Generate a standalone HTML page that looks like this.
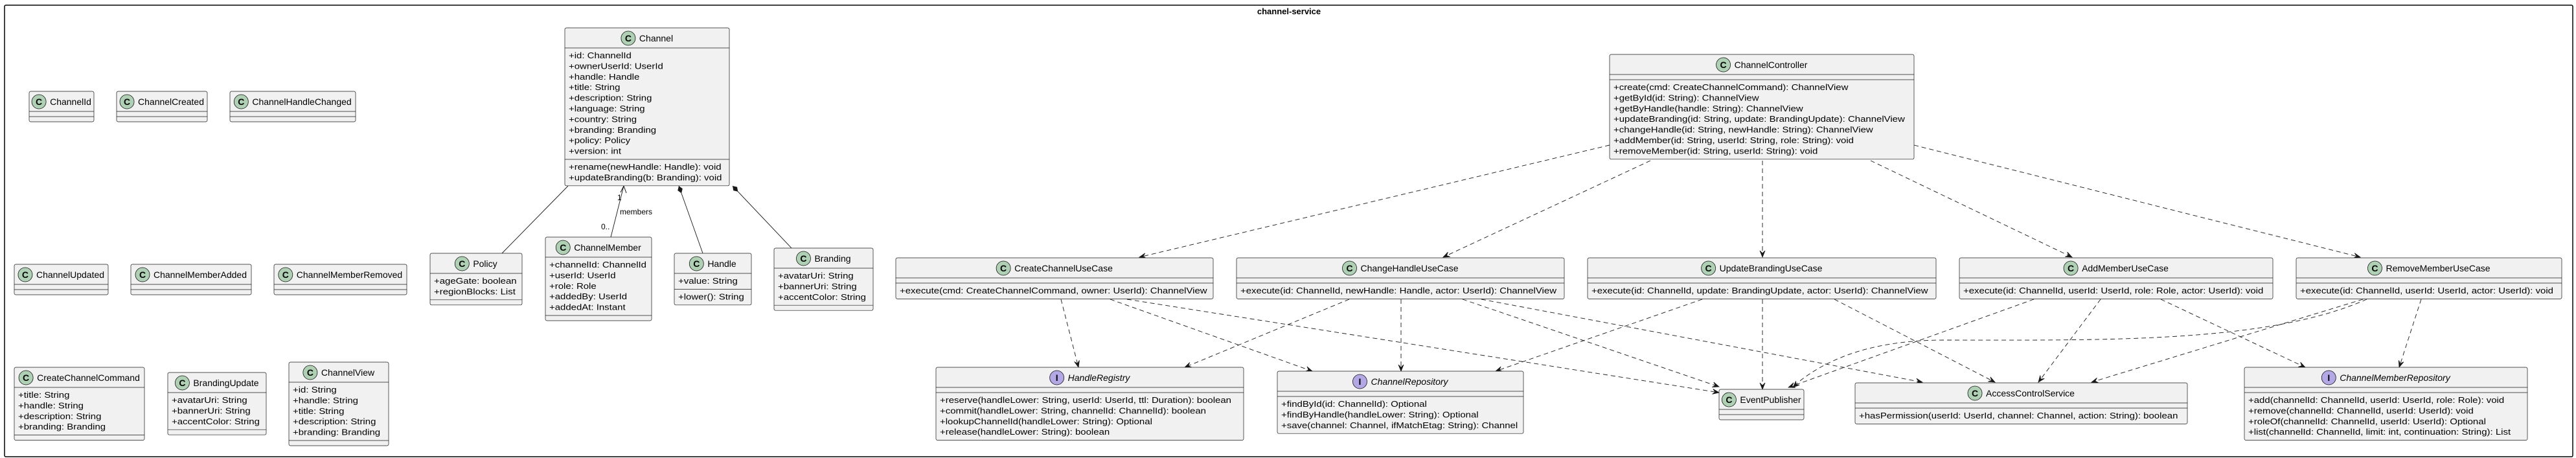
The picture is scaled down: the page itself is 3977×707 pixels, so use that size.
<!DOCTYPE html>
<html><head><meta charset="utf-8">
<style>
html,body{margin:0;padding:0;background:#fff;}
svg{display:block;}
text{font-family:"Liberation Sans",sans-serif;fill:#000;}
</style></head>
<body>
<svg id="s" width="3977" height="707" viewBox="0 0 3977 707" xmlns="http://www.w3.org/2000/svg">
<rect x="7" y="8" width="3965" height="697" fill="#fff" stroke="#000" stroke-width="1.5" rx="2"/>
<text x="1990" y="22" font-size="13" font-weight="bold" text-anchor="middle">channel-service</text>
<g id="edges"></g>
<g id="boxes"></g>
</svg>
<script>
const NS="http://www.w3.org/2000/svg";
const cv=document.createElement('canvas').getContext('2d');
function mw(t,f){cv.font=f;return cv.measureText(t).width;}
function el(tag,attrs,parent,txt){const e=document.createElementNS(NS,tag);for(const k in attrs)e.setAttribute(k,attrs[k]);if(txt!==undefined)e.textContent=txt;parent.appendChild(e);return e;}
const B=document.getElementById('boxes'),E=document.getElementById('edges');
const LH=16.4;
function box(name,x,y,w,attrs,methods,iface){
  const compH=n=>n==0?8:n*LH+8;
  const h=31+compH(attrs.length)+compH(methods.length);
  el('rect',{x:x,y:y,width:w,height:h,fill:'#F1F1F1',stroke:'#181818','stroke-width':0.7,rx:2.5},B);
  const nf=(iface?'italic ':'')+'14px "Liberation Sans"';
  const nw=mw(name,nf);
  const tot=22+6+nw;const sx=x+(w-tot)/2;
  el('circle',{cx:sx+11,cy:y+16,r:11,fill:iface?'#B4A7E5':'#ADD1B2',stroke:'#181818','stroke-width':0.8},B);
  el('text',{x:sx+11,y:y+21,'font-size':14,'font-weight':'bold','text-anchor':'middle'},B,iface?'I':'C');
  const t=el('text',{x:sx+28,y:y+21,'font-size':14},B,name);
  if(iface)t.setAttribute('font-style','italic');
  let cy=y+31;
  el('line',{x1:x,y1:cy,x2:x+w,y2:cy,stroke:'#181818','stroke-width':0.7},B);
  const all=attrs.concat(methods);
  let mx=0;all.forEach(l=>mx=Math.max(mx,mw(l,'13px "Liberation Sans"')));
  let k=mx?(w-13)/mx:1;k=Math.max(0.85,Math.min(1.15,k));
  function lines(arr){arr.forEach((l,i)=>{const tt=el('text',{x:x+6,y:cy+16+i*LH,'font-size':13},B,l);
    tt.setAttribute('textLength',(mw(l,'13px "Liberation Sans"')*k).toFixed(1));tt.setAttribute('lengthAdjust','spacingAndGlyphs');});}
  lines(attrs);cy+=compH(attrs.length);
  el('line',{x1:x,y1:cy,x2:x+w,y2:cy,stroke:'#181818','stroke-width':0.7},B);
  lines(methods);
}
function arrowHead(px,py,tx,ty,g){
  const dx=tx-px,dy=ty-py,L=Math.hypot(dx,dy),ux=dx/L,uy=dy/L,nx=-uy,ny=ux;
  const p=[[tx,ty],[tx-10*ux+4*nx,ty-10*uy+4*ny],[tx-6*ux,ty-6*uy],[tx-10*ux-4*nx,ty-10*uy-4*ny]];
  el('polygon',{points:p.map(a=>a.join(',')).join(' '),fill:'#181818',stroke:'#181818','stroke-width':0.8},g);
}
function dep(pts,dash){
  const d='M'+pts.map(p=>p.join(',')).join(' L');
  el('path',{d:d,fill:'none',stroke:'#181818','stroke-width':0.9,'stroke-dasharray':dash===false?'none':'7,5'},E);
  const a=pts[pts.length-2],b=pts[pts.length-1];arrowHead(a[0],a[1],b[0],b[1],E);
}
function line(x1,y1,x2,y2){el('line',{x1,y1,x2,y2,stroke:'#181818','stroke-width':0.9},E);}
function diamond(x1,y1,x2,y2){
  line(x1,y1,x2,y2);
  const dx=x2-x1,dy=y2-y1,L=Math.hypot(dx,dy),ux=dx/L,uy=dy/L,nx=-uy,ny=ux;
  const p=[[x1,y1],[x1+6*ux+4*nx,y1+6*uy+4*ny],[x1+12*ux,y1+12*uy],[x1+6*ux-4*nx,y1+6*uy-4*ny]];
  el('polygon',{points:p.map(a=>a.join(',')).join(' '),fill:'#181818'},E);
}
// solid relations
line(877,287,775,391);
line(943,366,963,287);
(function(){const g=E;el('polyline',{points:'958,297 963,287 967,298',fill:'none',stroke:'#181818','stroke-width':1},g);})();
el('text',{x:953,y:309,'font-size':12},E,'1');
el('text',{x:957,y:331,'font-size':12},E,'members');
el('text',{x:928,y:354,'font-size':12},E,'0..');
diamond(1048,287,1085,391);
diamond(1131,287,1222,383);
// controller deps
dep([[2485,224],[1759,397]]);
dep([[2548,248],[2228,397]]);
dep([[2721,248],[2721,397]]);
dep([[2888,248],[3199,397]]);
dep([[2955,224],[3644,397]]);
// create
dep([[1638,462],[1665,567]]);
dep([[1714,462],[2026,573]]);
dep([[1740,462],[2654,606]]);
// change handle
dep([[2083,462],[1829,567]]);
dep([[2163,462],[2163,573]]);
dep([[2258,462],[2654,597]]);
dep([[2287,462],[2968,590]]);
// update branding
dep([[2628,462],[2309,573]]);
dep([[2721,462],[2721,601]]);
dep([[2832,462],[3080,590]]);
// add member
dep([[3140,462],[2761,598]]);
dep([[3243,462],[3147,590]]);
dep([[3336,462],[3559,567]]);
// remove member
el('path',{d:'M3654,462 C3500,530 3250,525 3000,525 C2880,525 2810,560 2768,597',fill:'none',stroke:'#181818','stroke-width':0.9,'stroke-dasharray':'7,5'},E);
arrowHead(2790,578,2768,598,E);
dep([[3648,462],[3229,590]]);
dep([[3738,462],[3704,567]]);

// boxes
box('ChannelId',45,141,100,[],[]);
box('ChannelCreated',180,141,140,[],[]);
box('ChannelHandleChanged',355,141,194,[],[]);
box('ChannelUpdated',22,408,145,[],[]);
box('ChannelMemberAdded',202,408,186,[],[]);
box('ChannelMemberRemoved',423,408,205,[],[]);
box('Channel',872,43,254,['+id: ChannelId','+ownerUserId: UserId','+handle: Handle','+title: String','+description: String','+language: String','+country: String','+branding: Branding','+policy: Policy','+version: int'],['+rename(newHandle: Handle): void','+updateBranding(b: Branding): void']);
box('Policy',664,391,142,['+ageGate: boolean','+regionBlocks: List'],[]);
box('ChannelMember',842,366,164,['+channelId: ChannelId','+userId: UserId','+role: Role','+addedBy: UserId','+addedAt: Instant'],[]);
box('Handle',1041,391,119,['+value: String'],['+lower(): String']);
box('Branding',1195,383,153,['+avatarUri: String','+bannerUri: String','+accentColor: String'],[]);
box('CreateChannelCommand',22,567,201,['+title: String','+handle: String','+description: String','+branding: Branding'],[]);
box('BrandingUpdate',259,575,152,['+avatarUri: String','+bannerUri: String','+accentColor: String'],[]);
box('ChannelView',446,559,154,['+id: String','+handle: String','+title: String','+description: String','+branding: Branding'],[]);
box('ChannelController',2485,84,470,[],['+create(cmd: CreateChannelCommand): ChannelView','+getById(id: String): ChannelView','+getByHandle(handle: String): ChannelView','+updateBranding(id: String, update: BrandingUpdate): ChannelView','+changeHandle(id: String, newHandle: String): ChannelView','+addMember(id: String, userId: String, role: String): void','+removeMember(id: String, userId: String): void']);
box('CreateChannelUseCase',1383,398,490,[],['+execute(cmd: CreateChannelCommand, owner: UserId): ChannelView']);
box('ChangeHandleUseCase',1909,398,506,[],['+execute(id: ChannelId, newHandle: Handle, actor: UserId): ChannelView']);
box('UpdateBrandingUseCase',2451,398,538,[],['+execute(id: ChannelId, update: BrandingUpdate, actor: UserId): ChannelView']);
box('AddMemberUseCase',3025,398,484,[],['+execute(id: ChannelId, userId: UserId, role: Role, actor: UserId): void']);
box('RemoveMemberUseCase',3545,398,410,[],['+execute(id: ChannelId, userId: UserId, actor: UserId): void']);
box('HandleRegistry',1445,567,475,[],['+reserve(handleLower: String, userId: UserId, ttl: Duration): boolean','+commit(handleLower: String, channelId: ChannelId): boolean','+lookupChannelId(handleLower: String): Optional','+release(handleLower: String): boolean'],true);
box('ChannelRepository',1972,573,380,[],['+findById(id: ChannelId): Optional','+findByHandle(handleLower: String): Optional','+save(channel: Channel, ifMatchEtag: String): Channel'],true);
box('EventPublisher',2654,601,131,[],[]);
box('AccessControlService',2864,591,513,[],['+hasPermission(userId: UserId, channel: Channel, action: String): boolean']);
box('ChannelMemberRepository',3465,567,437,[],['+add(channelId: ChannelId, userId: UserId, role: Role): void','+remove(channelId: ChannelId, userId: UserId): void','+roleOf(channelId: ChannelId, userId: UserId): Optional','+list(channelId: ChannelId, limit: int, continuation: String): List'],true);
</script>
</body></html>
